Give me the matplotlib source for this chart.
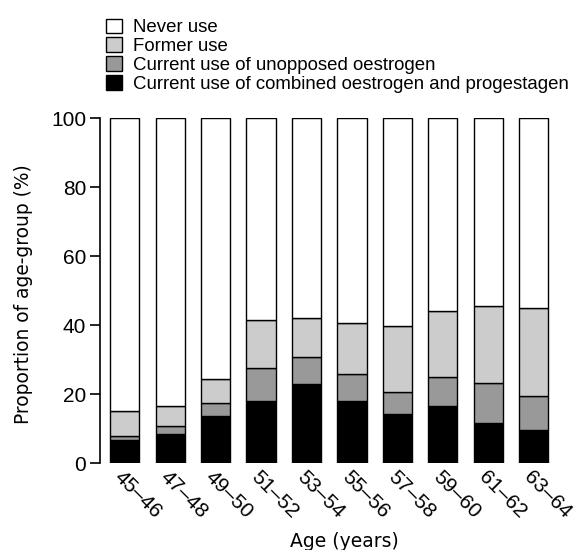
import numpy as np
import matplotlib
matplotlib.use("Agg")
import matplotlib.pyplot as plt
from matplotlib.patches import Patch

plt.rcParams['font.family'] = ['Liberation Sans', 'DejaVu Sans']

# Age groups and proportions (%)
age_groups = ["45–46", "47–48", "49–50", "51–52", "53–54",
              "55–56", "57–58", "59–60", "61–62", "63–64"]
combined = [6.7, 8.3, 13.8, 18.1, 22.8, 18.1, 14.1, 16.5, 11.7, 9.5]
unopposed = [1.1, 2.4, 3.5, 9.6, 8.0, 7.7, 6.5, 8.6, 11.4, 10.1]
former = [7.4, 5.8, 7.0, 13.7, 11.3, 14.8, 19.1, 19.0, 22.4, 25.3]

combined = np.array(combined)
unopposed = np.array(unopposed)
former = np.array(former)
never = 100 - combined - unopposed - former

fig = plt.figure(figsize=(5.75, 5.5), dpi=100)
ax = fig.add_axes([0.174, 0.158, 0.79, 0.627])

x = np.arange(len(age_groups))
w = 0.64
kw = dict(width=w, edgecolor='black', linewidth=1.0)
ax.bar(x, combined, color='black', **kw)
ax.bar(x, unopposed, bottom=combined, color='#999999', **kw)
ax.bar(x, former, bottom=combined + unopposed, color='#cccccc', **kw)
ax.bar(x, never, bottom=combined + unopposed + former, color='white', **kw)

ax.set_ylim(0, 100)
ax.set_xlim(-0.54, 9.45)
ax.set_yticks([0, 20, 40, 60, 80, 100])
ax.tick_params(axis='y', labelsize=15, length=7, width=1.2, pad=3)
ax.tick_params(axis='x', length=0, labelsize=15, pad=3)
ax.set_xticks(x)
ax.set_xticklabels(age_groups, rotation=-45, ha='left', va='top', rotation_mode='anchor')
for s in ['top', 'right', 'bottom']:
    ax.spines[s].set_visible(False)
ax.spines['left'].set_linewidth(1.2)

ax.set_ylabel("Proportion of age-group (%)", fontsize=13.4, family='DejaVu Sans')
ax.yaxis.set_label_coords(-0.148, 0.49)
ax.set_xlabel("Age (years)", fontsize=13.5, family='DejaVu Sans')
ax.xaxis.set_label_coords(0.537, -0.2)
ax.xaxis.label.set_va('top')

handles = [Patch(facecolor='white', edgecolor='black', label='Never use'),
           Patch(facecolor='#cccccc', edgecolor='black', label='Former use'),
           Patch(facecolor='#999999', edgecolor='black', label='Current use of unopposed oestrogen'),
           Patch(facecolor='black', edgecolor='black', label='Current use of combined oestrogen and progestagen')]
fig.legend(handles=handles, loc='upper left', bbox_to_anchor=(0.162, 0.99),
           frameon=False, fontsize=13.4, handlelength=0.85, handleheight=0.85,
           handletextpad=0.6, labelspacing=0.05, borderpad=0.2)

fig.savefig("out.png", dpi=100)
